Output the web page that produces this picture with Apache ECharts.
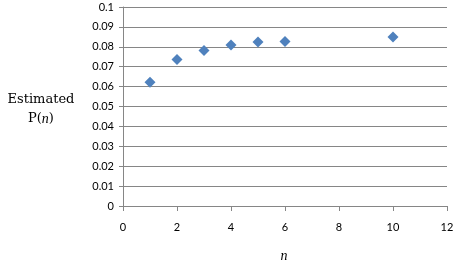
<!DOCTYPE html>
<html><head><meta charset="utf-8">
<script src="https://cdn.jsdelivr.net/npm/echarts@6/dist/echarts.min.js"></script>
<style>html,body{margin:0;padding:0;background:#fff}#c{width:461px;height:267px}</style>
</head><body><div id="c"></div>
<script>
const nValues = [1, 2, 3, 4, 5, 6, 10];
const pValues = [0.0622, 0.0736, 0.0782, 0.0809, 0.0824, 0.0827, 0.0849];
const xTicks = { min: 0, max: 12, interval: 2 };
const yTicks = { min: 0, max: 0.1, interval: 0.01 };

const chart = echarts.init(document.getElementById('c'), null, { renderer: 'canvas' });
const tickFont = { fontFamily: 'Lato, "Open Sans", sans-serif', fontSize: 11, color: '#000' };
chart.setOption({
  animation: false,
  grid: { left: 123, right: 14, top: 7, bottom: 61 },
  xAxis: {
    type: 'value', min: xTicks.min, max: xTicks.max, interval: xTicks.interval,
    axisLine: { onZero: false, lineStyle: { color: '#868686' } },
    axisTick: { show: true, length: 5, lineStyle: { color: '#868686' } },
    splitLine: { show: false },
    axisLabel: Object.assign({ margin: 16 }, tickFont)
  },
  yAxis: {
    type: 'value', min: yTicks.min, max: yTicks.max, interval: yTicks.interval,
    axisLine: { show: true, lineStyle: { color: '#868686' } },
    axisTick: { show: true, length: 4, lineStyle: { color: '#868686' } },
    splitLine: { show: true, lineStyle: { color: '#868686', width: 1 } },
    axisLabel: Object.assign({ margin: 9, formatter: v => String(+v.toFixed(2)) }, tickFont)
  },
  graphic: [
    { type: 'text', x: 41, y: 100, style: { text: 'Estimated', font: '13px "DejaVu Serif", "Liberation Serif", serif', fill: '#000', align: 'center', verticalAlign: 'middle' } },
    { type: 'text', x: 41, y: 119, style: { text: 'P({i|n})', rich: { i: { fontStyle: 'italic', fontFamily: '"Liberation Serif", serif', fontSize: 14 } }, font: '13px "DejaVu Serif", "Liberation Serif", serif', fill: '#000', align: 'center', verticalAlign: 'middle' } },
    { type: 'text', x: 284, y: 256, style: { text: 'n', font: 'italic 14px "Liberation Serif", serif', fill: '#000', align: 'center', verticalAlign: 'middle' } }
  ],
  series: [{
    type: 'scatter',
    symbol: 'diamond',
    symbolSize: 11,
    itemStyle: { color: '#4F81BD', opacity: 1 },
    data: nValues.map((n, i) => [n, pValues[i]])
  }]
});
</script></body></html>
